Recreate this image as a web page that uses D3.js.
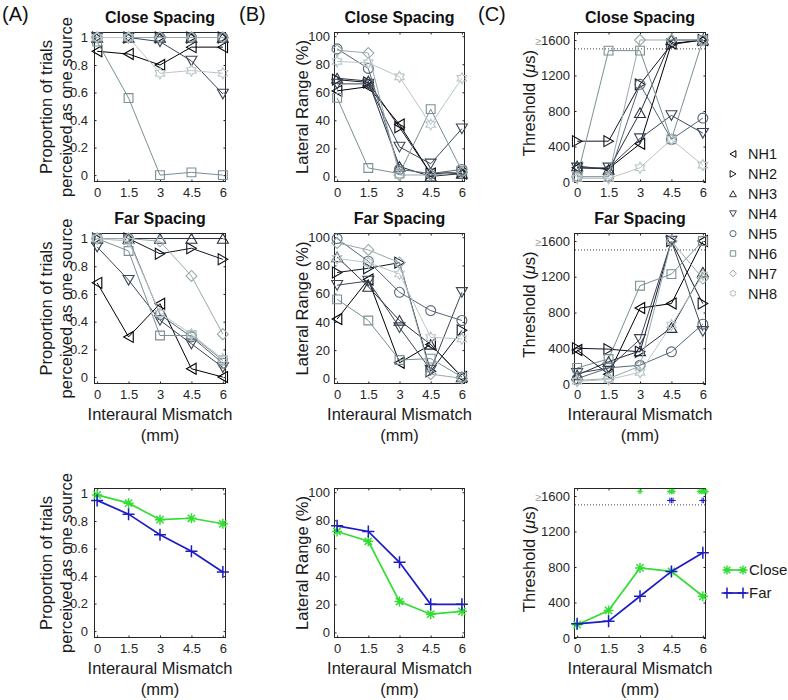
<!DOCTYPE html>
<html><head><meta charset="utf-8">
<script src="https://cdn.jsdelivr.net/npm/d3@7"></script>
<style>body{margin:0;background:#fff} svg{display:block;font-family:"Liberation Sans",Arial,sans-serif}</style>
</head><body>
<svg id="chart" width="788" height="700"></svg>
<script>
// ---------------- data ----------------
const xValues = [0, 1.5, 3, 4.5, 6];
const xTickLabels = ["0", "1.5", "3", "4.5", "6"];
const subjects = ["NH1", "NH2", "NH3", "NH4", "NH5", "NH6", "NH7", "NH8"];

const propTicks = [0, 0.2, 0.4, 0.6, 0.8, 1];
const propTickLabels = ["0", "0.2", "0.4", "0.6", "0.8", "1"];
const latTicks = [0, 20, 40, 60, 80, 100];
const latTickLabels = ["0", "20", "40", "60", "80", "100"];
const threshTicks = [0, 400, 800, 1200, 1600];
const threshTickLabels = ["0", "400", "800", "1200", "≥1600"];

// proportion perceived as one source, close spacing (NH1..NH8)
const propClose = [
  [0.90, 0.88, 0.80, 0.93, 0.93],
  [1, 1, 1, 1, 1],
  [1, 1, 1, 1, 1],
  [1, 1, 0.97, 0.83, 0.59],
  [1, 1, 1, 1, 1],
  [0.97, 0.56, 0.00, 0.02, 0.00],
  [1, 1, 1, 1, 1],
  [1, 1, 0.74, 0.76, 0.74]
];
// far spacing
const propFar = [
  [0.68, 0.29, 0.53, 0.06, 0.00],
  [1, 1, 0.89, 0.93, 0.85],
  [1, 1, 1, 1, 1],
  [0.94, 0.70, 0.41, 0.24, 0.07],
  [1, 1, 0.45, 0.29, 0.10],
  [1, 0.91, 0.30, 0.30, 0.12],
  [1, 1, 0.98, 0.73, 0.31],
  [1, 0.98, 0.46, 0.31, 0.13]
];
// lateral range (%), close spacing
const latClose = [
  [61, 64, 37, 2, 2],
  [69, 67, 35, 2, 3],
  [70, 68, 7, 0, 2],
  [66, 66, 21, 9, 34],
  [91, 77, 5, 2, 5],
  [56, 6, 2, 48, 4],
  [90, 88, 1, 1, 3],
  [82, 81, 71, 37, 70]
];
// lateral range (%), far spacing
const latFar = [
  [42, 70, 11, 24, 1],
  [75, 78, 82, 5, 34],
  [86, 65, 41, 24, 1],
  [66, 69, 36, 6, 61],
  [99, 83, 61, 48, 41],
  [56, 41, 13, 14, 1],
  [96, 91, 82, 3, 0],
  [85, 82, 74, 29, 28]
];
// threshold (us), close spacing
const threshClose = [
  [160, 150, 430, 1560, 1600],
  [460, 460, 1100, 1550, 1600],
  [180, 140, 780, 1600, 1600],
  [160, 160, 490, 750, 550],
  [60, 60, 1100, 480, 720],
  [60, 1480, 1480, 480, 1600],
  [60, 60, 1600, 1600, 1600],
  [40, 40, 160, 480, 190]
];
// threshold (us), far spacing
const threshFar = [
  [380, 110, 850, 900, 1600],
  [400, 390, 360, 1600, 900],
  [100, 250, 370, 630, 1250],
  [120, 180, 500, 1600, 590],
  [60, 180, 210, 360, 670],
  [180, 280, 1100, 1230, 1600],
  [40, 60, 200, 1600, 1180],
  [30, 50, 130, 660, 1220]
];
// group means
const propMeanClose = [0.99, 0.93, 0.81, 0.82, 0.78];
const propMeanFar = [0.95, 0.85, 0.70, 0.58, 0.43];
const latMeanClose = [72, 65, 22, 13, 15];
const latMeanFar = [76, 72, 50, 20, 20];
const threshMeanClose = [150, 310, 790, 750, 470];
const threshMeanFar = [160, 190, 470, 750, 960];
// number of listeners at ceiling (>=1600 us)
const ceilCountClose = [0, 0, 1, 3, 5];
const ceilCountFar = [0, 0, 0, 3, 2];
const ceilingMarkClose = 1650;
const ceilingMarkFar = 1550;
const dottedLevel = 1500;
const groupNames = ["Close", "Far"];

// ---------------- styles ----------------
const subjectColors = ["#000000", "#141622", "#282e3c", "#3b4556", "#586676", "#7a9092", "#99a9ab", "#bac6c8"];
const subjectMarkers = ["left", "right", "up", "down", "circle", "square", "diamond", "hexagram"];
const closeColor = "#33dd33";
const farColor = "#1c1cc4";
const axisColor = "#262626";

const svg = d3.select("#chart");

function markerPath(type, s) {
  const p = d3.path();
  if (type === "left") { p.moveTo(s*0.85, -s); p.lineTo(-s*0.9, 0); p.lineTo(s*0.85, s); p.closePath(); }
  else if (type === "right") { p.moveTo(-s*0.85, -s); p.lineTo(s*0.9, 0); p.lineTo(-s*0.85, s); p.closePath(); }
  else if (type === "up") { p.moveTo(-s, s*0.85); p.lineTo(0, -s*0.9); p.lineTo(s, s*0.85); p.closePath(); }
  else if (type === "down") { p.moveTo(-s, -s*0.85); p.lineTo(0, s*0.9); p.lineTo(s, -s*0.85); p.closePath(); }
  else if (type === "circle") { p.arc(0, 0, s*0.9, 0, 2*Math.PI); }
  else if (type === "square") { const q = s*0.8; p.rect(-q, -q, 2*q, 2*q); }
  else if (type === "diamond") { p.moveTo(0, -s); p.lineTo(s, 0); p.lineTo(0, s); p.lineTo(-s, 0); p.closePath(); }
  else if (type === "hexagram") {
    for (let i = 0; i < 12; i++) {
      const a = -Math.PI/2 + i*Math.PI/6;
      const r = i % 2 === 0 ? s : s/Math.sqrt(3);
      const px = r*Math.cos(a), py = r*Math.sin(a);
      if (i === 0) p.moveTo(px, py); else p.lineTo(px, py);
    }
    p.closePath();
  }
  else if (type === "plus") { p.moveTo(-s, 0); p.lineTo(s, 0); p.moveTo(0, -s); p.lineTo(0, s); }
  else if (type === "star") {
    p.moveTo(-s, 0); p.lineTo(s, 0); p.moveTo(0, -s); p.lineTo(0, s);
    const d = s*0.72; p.moveTo(-d, -d); p.lineTo(d, d); p.moveTo(-d, d); p.lineTo(d, -d);
  }
  return p.toString();
}

const cols = [{x0: 94, w: 132}, {x0: 334, w: 131}, {x0: 574, w: 132}];
const rows = [{y0: 32, h: 150}, {y0: 233, h: 151}, {y0: 488, h: 150}];

function drawPanel(col, row, opt) {
  const c = cols[col], r = rows[row];
  const x = d3.scaleLinear().domain([-0.15, 6.15]).range([c.x0, c.x0 + c.w]);
  const y = d3.scaleLinear().domain(opt.yDomain).range([r.y0 + r.h, r.y0]);
  const g = svg.append("g");

  // axes with inward ticks
  const fmtY = d => opt.yLabels[opt.yTicks.indexOf(d)];
  const fmtX = d => xTickLabels[xValues.indexOf(d)];
  const ax = (gen, tx, ty) => g.append("g").attr("transform", `translate(${tx},${ty})`).call(gen);
  const left = ax(d3.axisLeft(y).tickValues(opt.yTicks).tickFormat(fmtY).tickSize(-2.5).tickPadding(opt.yPad), c.x0, 0);
  const right = ax(d3.axisRight(y).tickValues(opt.yTicks).tickFormat("").tickSize(-2.5), c.x0 + c.w, 0);
  const bottom = ax(d3.axisBottom(x).tickValues(xValues).tickFormat(fmtX).tickSize(-2.5).tickPadding(6), 0, r.y0 + r.h);
  const top = ax(d3.axisTop(x).tickValues(xValues).tickFormat("").tickSize(-2.5), 0, r.y0);
  [left, right, bottom, top].forEach(a => {
    a.select(".domain").remove();
    a.selectAll("line").attr("stroke", axisColor);
    a.selectAll("text").attr("fill", axisColor).style("font-size", "13px").style("font-family", '"Liberation Sans",Arial,sans-serif');
  });
  left.selectAll("text").each(function(d) {
    const t = d3.select(this);
    const s = fmtY(d);
    if (s.startsWith("≥")) {
      t.text(null);
      t.append("tspan").attr("fill", "#9a9a9a").style("font-size", "11px").text("≥");
      t.append("tspan").text(s.slice(1));
    }
  });
  g.append("rect").attr("x", c.x0 + 0.5).attr("y", r.y0 + 0.5).attr("width", c.w - 1).attr("height", r.h - 1)
    .attr("fill", "none").attr("stroke", axisColor).attr("stroke-width", 1);

  if (opt.dotted) {
    g.append("line").attr("x1", c.x0 + 1).attr("x2", c.x0 + c.w - 1)
      .attr("y1", y(dottedLevel)).attr("y2", y(dottedLevel))
      .attr("stroke", "#444").attr("stroke-width", 1).attr("stroke-dasharray", "1,2");
  }

  const line = d3.line().x((d, i) => x(xValues[i])).y(d => y(d));
  opt.series.forEach(s => {
    g.append("path").attr("d", line(s.values)).attr("fill", "none")
      .attr("stroke", s.color).attr("stroke-width", s.lw);
    g.selectAll(null).data(s.values).enter().append("path")
      .attr("transform", (d, i) => `translate(${x(xValues[i])},${y(d)})`)
      .attr("d", markerPath(s.marker, s.size))
      .attr("fill", "none").attr("stroke", s.color).attr("stroke-width", s.mw);
  });

  if (opt.ceil) {
    opt.ceil.forEach(cs => {
      const pts = [];
      cs.counts.forEach((n, i) => {
        for (let k = 0; k < n; k++) pts.push({xv: xValues[i] + (k - (n - 1)/2) * 0.075, yv: cs.level});
      });
      g.selectAll(null).data(pts).enter().append("path")
        .attr("transform", d => `translate(${x(d.xv)},${y(d.yv)})`)
        .attr("d", markerPath(cs.marker, 2.8))
        .attr("fill", "none").attr("stroke", cs.color).attr("stroke-width", 1);
    });
  }

  const cx = c.x0 + c.w/2, cy = r.y0 + r.h/2;
  if (opt.title) {
    svg.append("text").attr("x", cx).attr("y", r.y0 - 9).attr("text-anchor", "middle")
      .style("font-size", "16px").style("font-weight", "bold").attr("fill", "#111").text(opt.title);
  }
  if (opt.xlabel) {
    svg.append("text").attr("x", cx).attr("y", r.y0 + r.h + 36).attr("text-anchor", "middle")
      .style("font-size", "16.5px").attr("fill", "#1a1a1a").text("Interaural Mismatch");
    svg.append("text").attr("x", cx).attr("y", r.y0 + r.h + 57).attr("text-anchor", "middle")
      .style("font-size", "16.5px").attr("fill", "#1a1a1a").text("(mm)");
  }
  opt.ylabel.forEach(l => {
    const t = svg.append("text").attr("transform", `translate(${l.x},${cy + (l.dy || 0)}) rotate(-90)`)
      .attr("text-anchor", "middle").style("font-size", "16.5px").attr("fill", "#1a1a1a");
    if (l.mu) {
      t.append("tspan").text("Threshold (");
      t.append("tspan").style("font-style", "italic").text("μ");
      t.append("tspan").text("s)");
    } else t.text(l.text);
  });
}

function subjectSeries(arr) {
  return arr.map((v, i) => ({values: v, color: subjectColors[i], marker: subjectMarkers[i], size: 5.5, lw: 1, mw: 1.1}));
}
function meanSeries(closeV, farV) {
  return [
    {values: closeV, color: closeColor, marker: "star", size: 5, lw: 1.7, mw: 1.5},
    {values: farV, color: farColor, marker: "plus", size: 6, lw: 1.7, mw: 1.5}
  ];
}

const ylabA = [{x: 52, text: "Proportion of trials"}, {x: 72, text: "perceived as one source"}];
const ylabB = [{x: 308, text: "Lateral Range (%)"}];
const ylabC = [{x: 535, mu: true, dy: -4}];
const propDom = [-0.05, 1.04], latDom = [-4, 103], thDom = [0, 1690];

// Column A
drawPanel(0, 0, {yDomain: propDom, yTicks: propTicks, yLabels: propTickLabels, yPad: 6, series: subjectSeries(propClose), title: "Close Spacing", ylabel: ylabA});
drawPanel(0, 1, {yDomain: propDom, yTicks: propTicks, yLabels: propTickLabels, yPad: 6, series: subjectSeries(propFar), title: "Far Spacing", xlabel: true, ylabel: ylabA});
drawPanel(0, 2, {yDomain: propDom, yTicks: propTicks, yLabels: propTickLabels, yPad: 6, series: meanSeries(propMeanClose, propMeanFar), xlabel: true, ylabel: ylabA});
// Column B
drawPanel(1, 0, {yDomain: latDom, yTicks: latTicks, yLabels: latTickLabels, yPad: 4, series: subjectSeries(latClose), title: "Close Spacing", ylabel: ylabB});
drawPanel(1, 1, {yDomain: latDom, yTicks: latTicks, yLabels: latTickLabels, yPad: 4, series: subjectSeries(latFar), title: "Far Spacing", xlabel: true, ylabel: ylabB});
drawPanel(1, 2, {yDomain: latDom, yTicks: latTicks, yLabels: latTickLabels, yPad: 4, series: meanSeries(latMeanClose, latMeanFar), xlabel: true, ylabel: ylabB});
// Column C
drawPanel(2, 0, {yDomain: thDom, yTicks: threshTicks, yLabels: threshTickLabels, yPad: 4, series: subjectSeries(threshClose), title: "Close Spacing", ylabel: ylabC, dotted: true});
drawPanel(2, 1, {yDomain: thDom, yTicks: threshTicks, yLabels: threshTickLabels, yPad: 4, series: subjectSeries(threshFar), title: "Far Spacing", xlabel: true, ylabel: ylabC, dotted: true});
drawPanel(2, 2, {yDomain: thDom, yTicks: threshTicks, yLabels: threshTickLabels, yPad: 4, series: meanSeries(threshMeanClose, threshMeanFar), xlabel: true, ylabel: ylabC, dotted: true,
  ceil: [{counts: ceilCountClose, level: ceilingMarkClose, marker: "star", color: closeColor},
         {counts: ceilCountFar, level: ceilingMarkFar, marker: "plus", color: farColor}]});

// panel letters
[["(A)", 2], ["(B)", 239], ["(C)", 478]].forEach(([t, px]) => {
  svg.append("text").attr("x", px).attr("y", 21).style("font-size", "20px").attr("fill", "#111").text(t);
});

// subject legend
const leg = svg.append("g");
subjects.forEach((s, i) => {
  const ly = 154 + i * 19.9;
  leg.append("path").attr("transform", `translate(733,${ly})`).attr("d", markerPath(subjectMarkers[i], 3.4))
    .attr("fill", "none").attr("stroke", subjectColors[i]).attr("stroke-width", 1);
  leg.append("text").attr("x", 748).attr("y", ly).attr("dy", "0.36em").style("font-size", "14.5px").attr("fill", "#1a1a1a").text(s);
});

// group legend
[[groupNames[0], closeColor, "star", 570], [groupNames[1], farColor, "plus", 593]].forEach(([t, col, m, ly]) => {
  leg.append("line").attr("x1", 724).attr("x2", 746).attr("y1", ly).attr("y2", ly).attr("stroke", col).attr("stroke-width", 1.7);
  [727, 743].forEach(mx => leg.append("path").attr("transform", `translate(${mx},${ly})`)
    .attr("d", markerPath(m, m === "star" ? 4.5 : 5.5)).attr("fill", "none").attr("stroke", col).attr("stroke-width", 1.5));
  leg.append("text").attr("x", 749).attr("y", ly).attr("dy", "0.36em").style("font-size", "15px").attr("fill", "#1a1a1a").text(t);
});
</script>
</body></html>
